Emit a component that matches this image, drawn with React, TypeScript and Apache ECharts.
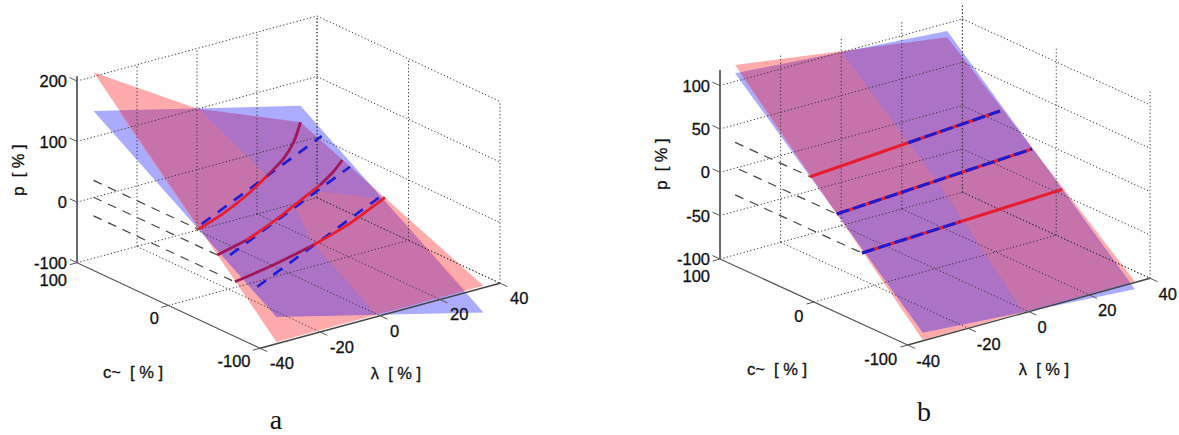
import React, { useEffect, useRef } from "react";
import * as echarts from "echarts";

type P3 = number[]; // [lambda, c, p]

// ---------- axis ticks ----------
const lambdaTicks = [-40, -20, 0, 20, 40];
const cTicks = [100, 0, -100];
const pTicksA = [200, 100, 0, -100];
const pTicksB = [100, 50, 0, -50, -100];

// ---------- panel a: surfaces ----------
const redSurfaceA: P3[] = [
  [-34.5, 100, 207], [-17, 100, 153], [0, 100, 101], [17, 100, 67], [34.5, 100, 32],
  [34.5, -100, -97], [-34.5, -100, -97],
];
const blueSurfaceA: P3[] = [
  [-34.5, 100, 143], [34.5, 100, 59], [34.5, -100, -141], [-34.5, -100, -56],
];
const pinkZoneLeftA: P3[] = [
  [-26.5, 99.4, 132.7], [0.24, 100.5, 101.2], [3.3, 34.3, 31.7], [-34.46, -14.4, 29.1],
];
const pinkZoneRightA: P3[] = [
  [-1.36, -100, -96.4], [-1.07, -30.6, -27.7], [3.09, 3, 0.7], [16.06, 18.2, 0.1],
  [34.5, 9.8, -30.7], [34.95, -79.4, -120],
];

// ---------- panel a: curves ----------
const redCurve1A: P3[] = [
  [-34.5, -14.5, 28.6], [-17.54, 13.6, 12.4], [-1.66, 40, 2.7], [11.9, 62.5, 0],
  [23.17, 81.2, 0.9], [29.96, 92.4, 11.3], [34.5, 100, 31.9],
];
const redCurve2A: P3[] = [
  [-34.5, -35.3, 0.8], [-18.27, -14.2, -11.1], [-3.59, 4.8, -14], [9.33, 21.6, -12.8],
  [22.19, 38.3, -11.6], [29.53, 47.9, -6.3], [34.5, 54.3, 1.9],
];
const redCurve3A: P3[] = [
  [-34.5, -54.6, -29.6], [-16.88, -38.7, -36.9], [1.52, -22.1, -40.3],
  [18.4, -6.8, -37.9], [34.5, 7.7, -26.8],
];
const blueLine1A: P3[] = [[-34.5, -18.2, 39.9], [34.5, 76.8, 25.6]];
const blueLine2A: P3[] = [[-34.5, -49.2, 10.6], [34.5, 45.9, -3.3]];
const blueLine3A: P3[] = [[-34.5, -79, -20.7], [34.5, 14.5, -32.3]];
const greyDash1A: P3[] = [[-34.5, 100, 28.6], [-34.5, -14.5, 28.6]];
const greyDash2A: P3[] = [[-34.5, 100, 0.8], [-34.5, -35.3, 0.8]];
const greyDash3A: P3[] = [[-34.5, 100, -30], [-34.5, -54.6, -30]];

// ---------- panel b: surfaces ----------
const redSurfaceB: P3[] = [
  [-35, 100, 119], [35, 100, 83.6], [35, -100, -99], [-35, -100, -99],
];
const blueSurfaceB: P3[] = [
  [-35, 100, 109.5], [35, 100, 90.9], [35, -100, -107.9], [-35, -100, -90.6],
];
const pinkZoneLeftB: P3[] = [
  [-33.5, 99.8, 109], [0.11, 99.8, 100], [0.71, 0.56, 0.5], [-35, -8.5, 1], [-34.5, 53.8, 63.1],
];
const pinkZoneRightB: P3[] = [
  [0.71, 0.56, 0.5], [34.7, 9.1, 0.1], [34.8, -93.9, -103], [-1.65, -99.4, -98.9],
];

// ---------- panel b: lines ----------
const redLine1B: P3[] = [[-35, 20.2, 29.7], [35, 43.8, 26.5]];
const redLine2B: P3[] = [[-35, -8.2, 0.8], [35, 9.8, -0.5]];
const redLine3B: P3[] = [[-35, -35.2, -30.8], [35, -22.7, -30.9]];
const blueDash1B: P3[] = [[1.2, 32.4, 28], [35, 43.8, 26.5]];
const blueDash2B: P3[] = [[-35, -8.2, 0.8], [35, 9.8, -0.5]];
const blueDash3B: P3[] = [[-35, -35.2, -30.8], [-0.7, -29, -30.8]];
const greyDash1B: P3[] = [[-35, 100, 29.7], [-35, 20.2, 29.7]];
const greyDash2B: P3[] = [[-35, 96, 0.8], [-35, -8.2, 0.8]];
const greyDash3B: P3[] = [[-35, 100, -30.8], [-35, -35.2, -30.8]];

// ---------- styling ----------
const RED_FILL = "rgba(255,0,0,0.33)";
const BLUE_FILL = "rgba(0,0,255,0.33)";
const PINK_OVERLAY = "rgba(255,115,115,0.33)";
const BRIGHT = "#e81c2c";
const CRIMSON = "#a3175a";
const BLUE = "#1c1cd6";
const GRID = "#333";
const AXIS = "#555";
const SANS = "'Liberation Sans', Arial, sans-serif";
const SERIF = "'Liberation Serif', 'Times New Roman', serif";

type View = { x0: number; y0: number; cx: number; cy: number; lx: number; ly: number; pz: number };
const viewA: View = { x0: 77, y0: 262.7, cx: 0.915, cy: 0.4275, lx: 3, ly: 0.8125, pz: 0.6057 };
const viewB: View = { x0: 720, y0: 259, cx: 0.9385, cy: 0.43, lx: 3.03, ly: 0.834, pz: 0.8667 };

const project = (v: View, [l, c, p]: P3) => {
  const u = 100 - c;
  const L = l + 40;
  return [v.x0 + v.cx * u + v.lx * L, v.y0 + v.cy * u - v.ly * L - v.pz * (p + 100)];
};

type Mark = { pts: P3[]; fill?: string; stroke?: string; width?: number; dash?: number[]; smooth?: number };

const buildFrame = (pTicks: number[], pTop: number): Mark[] => {
  const m: Mark[] = [];
  const dotted = (pts: P3[]) => m.push({ pts, stroke: GRID, width: 1, dash: [1.2, 2.3] });
  const pMin = -100;
  lambdaTicks.forEach((l) => {
    if (l !== -40) dotted([[l, 100, pMin], [l, 100, pTop]]);
    if (l !== -40) dotted([[l, 100, pMin], [l, -100, pMin]]);
  });
  cTicks.forEach((c) => {
    dotted([[40, c, pMin], [40, c, pTop]]);
    if (c !== -100) dotted([[-40, c, pMin], [40, c, pMin]]);
  });
  pTicks.forEach((p) => {
    if (p !== pMin) {
      dotted([[-40, 100, p], [40, 100, p]]);
      dotted([[40, 100, p], [40, -100, p]]);
    }
  });
  dotted([[40, 100, pMin], [40, -100, pMin]]);
  const solid = (pts: P3[], width: number, stroke = AXIS) => m.push({ pts, stroke, width });
  solid([[-40, 100, pMin], [-40, 100, pTop + (pTop > 150 ? 8 : 0)]], 2, "#6b6b6b");
  solid([[-40, 100, pMin], [-40, -100, pMin]], 1.2);
  solid([[-40, -100, pMin], [40, -100, pMin]], 1.4, "#444");
  pTicks.forEach((p) => solid([[-40, 100, p], [-40, 108, p]], 1));
  cTicks.forEach((c) => solid([[-40, c, pMin], [-42.4, c, pMin]], 1));
  lambdaTicks.forEach((l) => solid([[l, -100, pMin], [l, -108, pMin]], 1));
  return m;
};

const greyDash = (pts: P3[]): Mark => ({ pts, stroke: "#444", width: 1.2, dash: [9, 7] });
const line = (pts: P3[], stroke: string, width = 2.8, dash?: number[]): Mark => ({ pts, stroke, width, dash });
const curve = (pts: P3[], stroke: string): Mark => ({ pts, stroke, width: 2.8, smooth: 0.25 });

const marksA: Mark[] = [
  { pts: redSurfaceA, fill: RED_FILL },
  { pts: blueSurfaceA, fill: BLUE_FILL },
  { pts: pinkZoneLeftA, fill: PINK_OVERLAY },
  { pts: pinkZoneRightA, fill: PINK_OVERLAY },
  ...buildFrame(pTicksA, 200),
  greyDash(greyDash1A), greyDash(greyDash2A), greyDash(greyDash3A),
  line(blueLine1A, BLUE, 2.6, [11, 9]),
  line(blueLine2A, BLUE, 2.6, [11, 9]),
  line(blueLine3A, BLUE, 2.6, [11, 9]),
  curve(redCurve1A.slice(0, 4), BRIGHT),
  curve(redCurve1A.slice(3), CRIMSON),
  curve(redCurve2A.slice(0, 2), CRIMSON),
  curve(redCurve2A.slice(1, 5), BRIGHT),
  curve(redCurve2A.slice(4), CRIMSON),
  curve(redCurve3A.slice(0, 3), CRIMSON),
  curve(redCurve3A.slice(2), BRIGHT),
];

const marksB: Mark[] = [
  { pts: redSurfaceB, fill: RED_FILL },
  { pts: blueSurfaceB, fill: BLUE_FILL },
  { pts: pinkZoneLeftB, fill: PINK_OVERLAY },
  { pts: pinkZoneRightB, fill: PINK_OVERLAY },
  ...buildFrame(pTicksB, 118),
  greyDash(greyDash1B), greyDash(greyDash2B), greyDash(greyDash3B),
  line(redLine1B, BRIGHT, 3),
  line(redLine2B, BRIGHT, 3),
  line(redLine3B, BRIGHT, 3),
  line(blueDash1B, BLUE, 3, [13, 4]),
  line(blueDash2B, BLUE, 3, [13, 4]),
  line(blueDash3B, BLUE, 3, [13, 4]),
];

type Label = { text: string; x: number; y: number; align: string; size?: number; rot?: number; font?: string };

const tickLabels = (v: View, pTicks: number[], off: { p: number[]; l: number[]; c: (c: number) => number[] }): Label[] => {
  const out: Label[] = [];
  pTicks.forEach((p) => {
    const [x, y] = project(v, [-40, 100, p]);
    out.push({ text: String(p), x: x + off.p[0], y: y + off.p[1], align: "right" });
  });
  cTicks.forEach((c) => {
    const [x, y] = project(v, [-40, c, -100]);
    const d = off.c(c);
    out.push({ text: String(c), x: x + d[0], y: y + d[1], align: "right" });
  });
  lambdaTicks.forEach((l) => {
    const [x, y] = project(v, [l, -100, -100]);
    out.push({ text: String(l), x: x + off.l[0], y: y + off.l[1], align: "left" });
  });
  return out;
};

const labelsA: Label[] = [
  ...tickLabels(viewA, pTicksA, { p: [-10, 0], l: [10, 15], c: (c) => (c === 100 ? [-10, 17] : [-9.5, 13]) }),
  { text: "c~  [ % ]", x: 133, y: 372, align: "center", size: 16.5 },
  { text: "\u03bb  [ % ]", x: 396, y: 373, align: "center", size: 16.5 },
  { text: "p  [ % ]", x: 18, y: 170, align: "center", size: 16.5, rot: Math.PI / 2 },
  { text: "a", x: 276, y: 419, align: "center", size: 28, font: SERIF },
];
const labelsB: Label[] = [
  ...tickLabels(viewB, pTicksB, { p: [-10, 0], l: [8.5, 15.5], c: (c) => (c === 100 ? [-10, 17] : [-10.5, 14]) }),
  { text: "c~  [ % ]", x: 777, y: 369, align: "center", size: 16.5 },
  { text: "\u03bb  [ % ]", x: 1044, y: 369, align: "center", size: 16.5 },
  { text: "p  [ % ]", x: 661, y: 164, align: "center", size: 16.5, rot: Math.PI / 2 },
  { text: "b", x: 924, y: 411, align: "center", size: 28, font: SERIF },
];

const markSeries = (idx: number, v: View, marks: Mark[]) => ({
  type: "custom",
  xAxisIndex: idx,
  yAxisIndex: idx,
  silent: true,
  clip: false,
  data: marks.map((_, i) => [i]),
  renderItem: (params: any, api: any) => {
    const m = marks[params.dataIndex];
    const points = m.pts.map((p: P3) => api.coord(project(v, p)));
    if (m.fill) {
      return { type: "polygon", shape: { points }, style: { fill: m.fill, stroke: null } };
    }
    return {
      type: "polyline",
      shape: { points, smooth: m.smooth || 0 },
      style: { fill: null, stroke: m.stroke, lineWidth: m.width, lineDash: m.dash || null },
    };
  },
});

const labelSeries = (idx: number, labels: Label[]) => ({
  type: "custom",
  xAxisIndex: idx,
  yAxisIndex: idx,
  silent: true,
  clip: false,
  data: labels.map((_, i) => [i]),
  renderItem: (params: any, api: any) => {
    const l = labels[params.dataIndex];
    const [x, y] = api.coord([l.x, l.y]);
    return {
      type: "text",
      x,
      y,
      rotation: l.rot || 0,
      style: {
        text: l.text,
        fill: "#111",
        stroke: l.font ? undefined : "#111",
        lineWidth: l.font ? 0 : 0.3,
        fontFamily: l.font || SANS,
        fontSize: l.size || 16.5,
        align: l.align,
        verticalAlign: "middle",
      },
    };
  },
});

export default function App() {
  const ref = useRef<HTMLDivElement>(null);
  useEffect(() => {
    document.body.style.margin = "0";
    const chart = echarts.init(ref.current!, undefined, { renderer: "svg" });
    const hiddenX = (gridIndex: number, min: number, max: number) => ({ type: "value", gridIndex, min, max, show: false });
    const hiddenY = (gridIndex: number) => ({ type: "value", gridIndex, min: 0, max: 435, inverse: true, show: false });
    chart.setOption({
      animation: false,
      backgroundColor: "#fff",
      grid: [
        { left: 0, top: 0, width: 590, height: 435 },
        { left: 590, top: 0, width: 589, height: 435 },
      ],
      xAxis: [hiddenX(0, 0, 590), hiddenX(1, 590, 1179)],
      yAxis: [hiddenY(0), hiddenY(1)],
      series: [
        markSeries(0, viewA, marksA),
        labelSeries(0, labelsA),
        markSeries(1, viewB, marksB),
        labelSeries(1, labelsB),
      ],
    });
    return () => chart.dispose();
  }, []);
  return <div ref={ref} style={{ position: "fixed", left: 0, top: 0, width: 1179, height: 435 }} />;
}
